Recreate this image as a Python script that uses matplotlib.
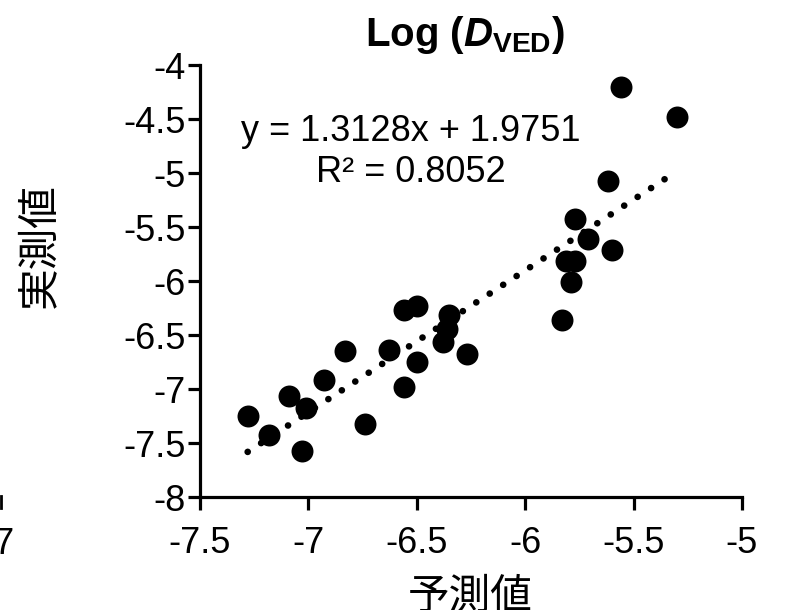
import numpy as np
import matplotlib
matplotlib.use("Agg")
import matplotlib.pyplot as plt
from matplotlib.lines import Line2D

plt.rcParams['font.family'] = ['Liberation Sans', 'DejaVu Sans']
plt.rcParams['mathtext.fontset'] = 'custom'
plt.rcParams['mathtext.rm'] = 'Liberation Sans:bold'
plt.rcParams['mathtext.it'] = 'Liberation Sans:italic:bold'
plt.rcParams['mathtext.bf'] = 'Liberation Sans:bold'

pred = [-7.28, -7.18, -7.03, -7.09, -7.01, -6.93, -6.83, -6.74, -6.63,
        -6.56, -6.50, -6.50, -6.56, -6.35, -6.36, -6.38, -6.27, -5.83,
        -5.79, -5.81, -5.77, -5.77, -5.71, -5.60, -5.62, -5.56, -5.30]
meas = [-7.25, -7.43, -7.57, -7.06, -7.18, -6.92, -6.65, -7.32, -6.64,
        -6.27, -6.23, -6.75, -6.98, -6.31, -6.44, -6.56, -6.68, -6.36,
        -6.01, -5.81, -5.81, -5.43, -5.61, -5.71, -5.07, -4.20, -4.48]

slope = 1.3128
intercept = 1.9751
r2 = 0.8052

xticks = [-7.5, -7, -6.5, -6, -5.5, -5]
yticks = [-8, -7.5, -7, -6.5, -6, -5.5, -5, -4.5, -4]

fig = plt.figure(figsize=(7.87, 6.10), dpi=100)
ax = fig.add_axes([0.2541, 0.1852, 0.6887, 0.7082])

ax.scatter(pred, meas, s=250, color='black', zorder=3, linewidths=0)

xs = np.array([min(pred), max(pred)])
ax.plot(xs, slope * xs + intercept, color='black', lw=4.8,
        linestyle=(0, (0.01, 2.4)), dash_capstyle='round', zorder=2)

ax.set_xlim(-7.5, -5)
ax.set_ylim(-8, -4)
ax.set_xticks(xticks)
ax.set_yticks(yticks)
ax.set_xticklabels(['%g' % t for t in xticks])
ax.set_yticklabels(['%g' % t for t in yticks])
for s in ['top', 'right']:
    ax.spines[s].set_visible(False)
for s in ['left', 'bottom']:
    ax.spines[s].set_linewidth(2.3)
ax.tick_params(axis='both', direction='out', length=9, width=2.3, labelsize=26)
ax.tick_params(axis='y', pad=1)
ax.tick_params(axis='x', pad=12)

ax.text(-6.527, -4.611, 'y = %.4fx + %.4f' % (slope, intercept), fontsize=26,
        ha='center', va='center')
ax.text(-6.527, -4.991, 'R² = %.4f' % r2, fontsize=26, ha='center', va='center')

fig.text(0.591, 0.943, r'Log ($D_{\mathbf{VED}}$)', fontsize=29, fontweight='bold',
         ha='center', va='center')

fig.text(0.0508, 0.598, '実測値', fontsize=30, rotation=90, ha='center', va='center',
         family=['Noto Sans CJK JP', 'DejaVu Sans'])
fig.text(0.597, 0.021, '予測値', fontsize=30, ha='center', va='center',
         family=['Noto Sans CJK JP', 'DejaVu Sans'])

# piece of the neighbouring chart cut at the left edge
fig.text(15 / 787, 1 - 544 / 610, '-7', fontsize=26, ha='right', va='center')
fig.add_artist(Line2D([1 / 787, 1 / 787], [1 - 496 / 610, 1 - 508 / 610],
                      transform=fig.transFigure, color='black', lw=2))

fig.savefig('out.png', dpi=100)
